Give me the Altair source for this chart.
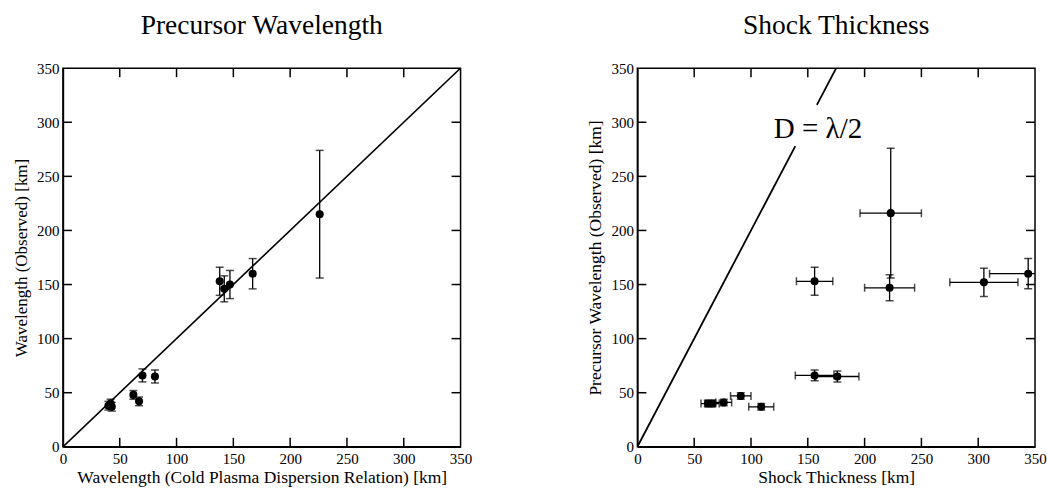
import altair as alt
import pandas as pd

FONT = "Liberation Serif"
W, H = 398, 379

# Left panel: cold plasma dispersion wavelength vs observed wavelength
left_x = [40, 42, 43, 62, 67, 70, 81, 138, 142, 147, 167, 226]
left_y = [38, 40, 37, 48, 42, 66, 65, 153, 146, 150, 160, 215]
left_yerr = [4, 4, 4, 4, 4, 6, 6, 13, 12, 13, 14, 59]

# Right panel: shock thickness vs observed precursor wavelength
right_x = [62, 66, 76, 91, 109, 156, 176, 156, 223, 222, 305, 344]
right_y = [40, 40, 41, 47, 37, 66, 65, 153, 216, 147, 152, 160]
right_xerr = [6, 6, 7, 9, 11, 17, 19, 16, 27, 22, 30, 34]
right_yerr = [3, 3, 3, 3, 3, 5, 5, 13, 60, 12, 13, 14]

axis_vals = [0, 50, 100, 150, 200, 250, 300, 350]
inner_ticks = [50, 100, 150, 200, 250, 300]

# D = lambda/2 line (y = 2x), broken where the label sits
line_x = [0, 139, 158, 175]
line_y = [0, 278, 316, 350]
line_seg = ["a", "a", "b", "b"]

ldf = pd.DataFrame({"x": left_x, "y": left_y, "ye": left_yerr})
ldf["ylo"] = ldf.y - ldf.ye
ldf["yhi"] = ldf.y + ldf.ye

rdf = pd.DataFrame({"x": right_x, "y": right_y, "xe": right_xerr, "ye": right_yerr})
rdf["ylo"] = rdf.y - rdf.ye
rdf["yhi"] = rdf.y + rdf.ye
rdf["xlo"] = rdf.x - rdf.xe
rdf["xhi"] = rdf.x + rdf.xe

sc = alt.Scale(domain=[0, 350], nice=False, zero=False)
tdf = pd.DataFrame({"t": inner_ticks})
TL = 9


def make_enc(xt, yt, xfs, yfs):
    xax = alt.Axis(values=axis_vals, ticks=False, labelPadding=5, titleFontSize=xfs,
                   titlePadding=2, labelFlush=False, title=xt)
    yax = alt.Axis(values=axis_vals, ticks=False, labelPadding=4, titleFontSize=yfs,
                   titlePadding=6, labelFlush=False, title=yt)

    def X(field):
        return alt.X(field, type="quantitative", scale=sc, axis=xax)

    def Y(field):
        return alt.Y(field, type="quantitative", scale=sc, axis=yax)
    return X, Y


def tick_layers(X, Y):
    st = dict(color="black", strokeWidth=1.5)
    b = alt.Chart(tdf).mark_rule(**st).encode(x=X("t"), y=alt.value(H), y2=alt.value(H - TL))
    t = alt.Chart(tdf).mark_rule(**st).encode(x=X("t"), y=alt.value(0), y2=alt.value(TL))
    l = alt.Chart(tdf).mark_rule(**st).encode(y=Y("t"), x=alt.value(0), x2=alt.value(TL))
    r = alt.Chart(tdf).mark_rule(**st).encode(y=Y("t"), x=alt.value(W), x2=alt.value(W - TL))
    return [b, t, l, r]


# ---- left panel
X, Y = make_enc("Wavelength (Cold Plasma Dispersion Relation) [km]",
                "Wavelength (Observed) [km]", 17.5, 17)
diag = pd.DataFrame({"x": [0, 350], "y": [0, 350]})
l_line = alt.Chart(diag).mark_line(color="black", strokeWidth=1.6, clip=True).encode(
    x=X("x"), y=Y("y"))
l_err = alt.Chart(ldf).mark_rule(color="black", strokeWidth=1.3).encode(
    x=X("x"), y=Y("ylo"), y2="yhi")
l_cap1 = alt.Chart(ldf).mark_tick(color="black", orient="horizontal", size=8, thickness=1.5).encode(
    x=X("x"), y=Y("ylo"))
l_cap2 = alt.Chart(ldf).mark_tick(color="black", orient="horizontal", size=8, thickness=1.5).encode(
    x=X("x"), y=Y("yhi"))
l_pts = alt.Chart(ldf).mark_circle(color="black", size=65, opacity=1).encode(
    x=X("x"), y=Y("y"))

left = alt.layer(l_line, l_err, l_cap1, l_cap2, l_pts, *tick_layers(X, Y)).properties(
    width=W, height=H,
    title=alt.TitleParams("Precursor Wavelength", font=FONT, fontSize=27.5, fontWeight="normal",
                          color="black", offset=22))

# ---- right panel
X, Y = make_enc("Shock Thickness [km]", "Precursor Wavelength (Observed) [km]", 17.5, 17.5)
ldf2 = pd.DataFrame({"x": line_x, "y": line_y, "s": line_seg})
r_line = alt.Chart(ldf2).mark_line(color="black", strokeWidth=1.8, clip=True).encode(
    x=X("x"), y=Y("y"), detail="s:N")
r_lab = alt.Chart(pd.DataFrame({"x": [159], "y": [294], "t": ["D = λ/2"]})).mark_text(
    font=FONT, fontSize=29, color="black").encode(
    x=X("x"), y=Y("y"), text="t:N")
r_yerr = alt.Chart(rdf).mark_rule(color="black", strokeWidth=1.3, clip=True).encode(
    x=X("x"), y=Y("ylo"), y2="yhi")
r_xerr = alt.Chart(rdf).mark_rule(color="black", strokeWidth=1.3, clip=True).encode(
    y=Y("y"), x=X("xlo"), x2="xhi")
caps = []
for f in ["ylo", "yhi"]:
    caps.append(alt.Chart(rdf).mark_tick(color="black", orient="horizontal", size=8, thickness=1.5, clip=True).encode(
        x=X("x"), y=Y(f)))
for f in ["xlo", "xhi"]:
    caps.append(alt.Chart(rdf).mark_tick(color="black", orient="vertical", size=8, thickness=1.5, clip=True).encode(
        x=X(f), y=Y("y")))
r_pts = alt.Chart(rdf).mark_circle(color="black", size=65, opacity=1, clip=True).encode(
    x=X("x"), y=Y("y"))

right = alt.layer(r_line, r_lab, r_yerr, r_xerr, *caps, r_pts, *tick_layers(X, Y)).properties(
    width=W, height=H,
    title=alt.TitleParams("Shock Thickness", font=FONT, fontSize=27.5, fontWeight="normal",
                          color="black", offset=22))

chart = alt.hconcat(left, right, spacing=113).properties(
    padding={"left": 11, "top": 10, "right": 0, "bottom": 1}, background="white"
).configure_axis(
    labelFont=FONT, titleFont=FONT, labelFontSize=15, titleFontWeight="normal",
    domainColor="black", domainWidth=1.5, labelColor="black", titleColor="black", grid=False
).configure_view(stroke="black", strokeWidth=1.5)

chart.save("out.html", embed_options={"renderer": "svg", "actions": False})
